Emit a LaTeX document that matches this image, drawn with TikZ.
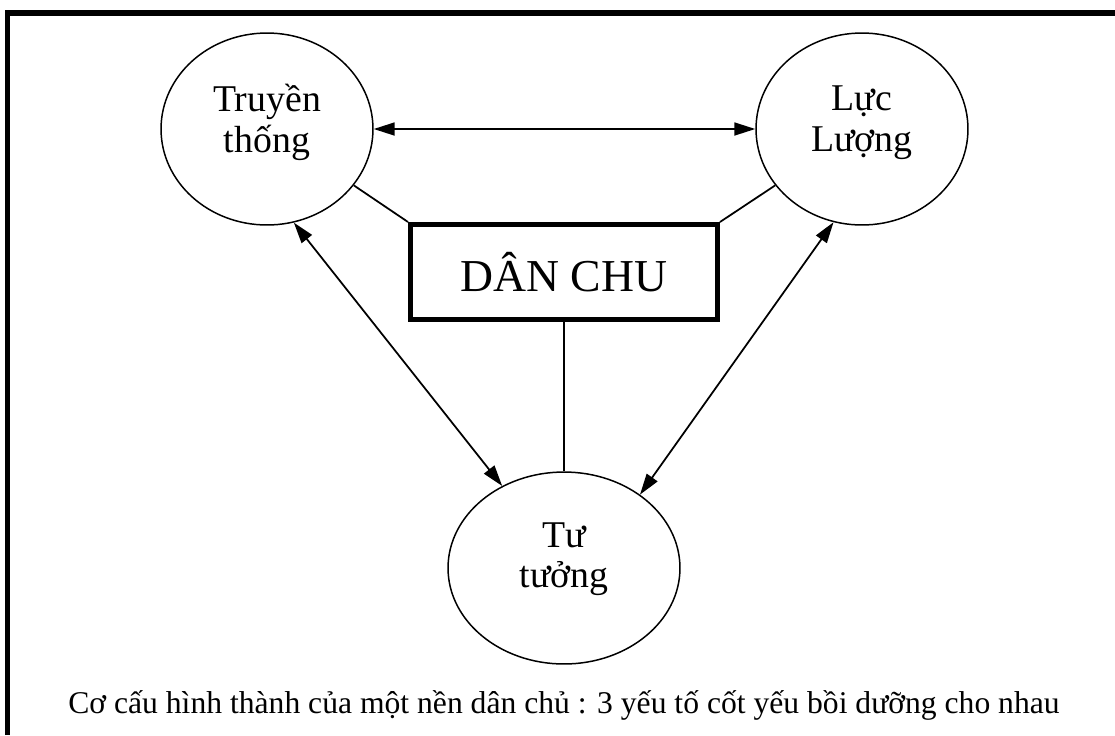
\documentclass[tikz,border=0pt]{standalone}
\usepackage{fontspec}
\setmainfont{Liberation Serif}
\usetikzlibrary{shapes.geometric,arrows.meta,positioning}

\begin{document}
\begin{tikzpicture}[x=0.02cm,y=-0.02cm,
  yeuto/.style={draw,ellipse,line width=0.85pt,inner sep=0pt,minimum width=4.24cm,minimum height=3.84cm,align=center,text depth=12pt,font=\fontsize{21.5}{23}\selectfont},
  muiten/.style={<->,line width=1pt,>={Triangle[length=0.42cm,width=0.26cm]}},
  noi/.style={line width=1pt}]
\useasboundingbox (0,0) rectangle (1115,735);
\draw[line width=0.11cm] (7.5,735) -- (7.5,13) -- (1115,13);
\node[yeuto] (Truyen) at (267,129) {Truyền\\thống};
\node[yeuto] (Luc) at (862,129) {Lực\\Lượng};
\node[yeuto,minimum width=4.64cm,text depth=15pt] (Tu) at (564,568) {Tư\\tưởng};
\node[draw,line width=0.1cm,minimum width=6.14cm,minimum height=1.9cm,font=\fontsize{26}{30}\selectfont] (DanChu) at (564,272) {DÂN CHU};
\draw[muiten] (Truyen) -- (Luc);
\draw[muiten] (Truyen.-74) -- (Tu.127);
\draw[muiten] (Luc.-107) -- (Tu.44);
\draw[noi] (Truyen.-33) -- (DanChu.north west);
\draw[noi] (Luc.-147) -- (DanChu.north east);
\draw[noi] (DanChu) -- (Tu);
\node[anchor=base,font=\fontsize{18}{20}\selectfont] (ChuThich) at (564,713) {Cơ cấu hình thành của một nền dân chủ : 3 yếu tố cốt yếu bồi dưỡng cho nhau};
\end{tikzpicture}
\end{document}
